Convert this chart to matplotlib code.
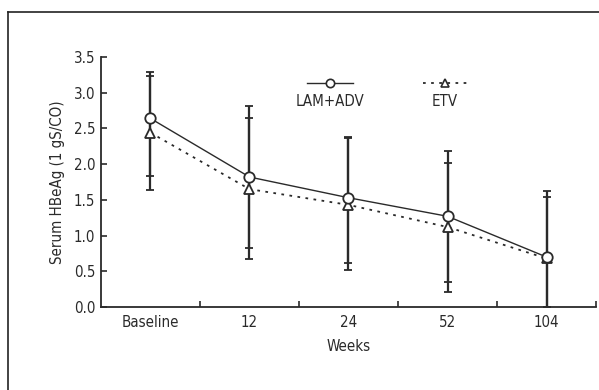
import matplotlib
matplotlib.use("Agg")
import matplotlib.pyplot as plt
import numpy as np
from matplotlib.lines import Line2D

plt.rcParams['font.family'] = ['DejaVu Sans']
plt.rcParams['font.stretch'] = 'condensed'

categories = ["Baseline", "12", "24", "52", "104"]
lam_mean = [2.64, 1.82, 1.53, 1.27, 0.70]
lam_upper = [3.23, 2.65, 2.38, 2.02, 1.54]
lam_lower = [1.83, 0.82, 0.61, 0.35, 0.0]
etv_mean = [2.44, 1.65, 1.43, 1.12, 0.68]
etv_upper = [3.29, 2.81, 2.36, 2.18, 1.62]
etv_lower = [1.64, 0.67, 0.52, 0.21, 0.0]
yticks = [0.0, 0.5, 1.0, 1.5, 2.0, 2.5, 3.0, 3.5]

ink = "#2a2a2a"
fs = 10.8

fig = plt.figure(figsize=(5.99, 3.90), dpi=100)
ax = fig.add_axes([0.1686, 0.2128, 0.8264, 0.641])

x = np.arange(len(categories)) + 0.5

def err(mean, lo, hi):
    mean = np.array(mean)
    return [mean - np.array(lo), np.array(hi) - mean]

for mean, lo, hi in [(lam_mean, lam_lower, lam_upper), (etv_mean, etv_lower, etv_upper)]:
    ax.errorbar(x, mean, yerr=err(mean, lo, hi), fmt="none", ecolor=ink,
                elinewidth=1.6, capsize=3.2, capthick=1.3, zorder=2)

ax.plot(x, lam_mean, color=ink, lw=1.0, marker="o", ms=7.5, mfc="white",
        mec=ink, mew=1.3, zorder=4)
ax.plot(x, etv_mean, color=ink, lw=1.3, ls=(0, (1.5, 3)), marker="^", ms=7.5,
        mfc="white", mec=ink, mew=1.3, zorder=3)

ax.set_xlim(0, 5)
ax.set_ylim(0, 3.5)
ax.set_xticks(np.arange(1, 6))
ax.set_xticklabels([])
ax.set_xticks(x, minor=True)
ax.set_xticklabels(categories, minor=True, fontsize=fs, color=ink)
ax.tick_params(axis="x", which="minor", length=0, pad=6)
ax.tick_params(axis="x", which="major", direction="in", length=4, width=1.2, color=ink)
ax.set_yticks(yticks)
ax.set_yticklabels([f"{v:.1f}" for v in yticks], fontsize=fs, color=ink)
ax.tick_params(axis="y", direction="in", length=4, width=1.2, color=ink, pad=4)

for s in ["top", "right"]:
    ax.spines[s].set_visible(False)
for s in ["left", "bottom"]:
    ax.spines[s].set_color(ink)
    ax.spines[s].set_linewidth(1.3)

ax.set_xlabel("Weeks", fontsize=fs, color=ink, labelpad=6)
ax.set_ylabel("Serum HBeAg (1 gS/CO)", fontsize=fs, color=ink, labelpad=6)

# legend drawn manually: handle above label
ax.add_line(Line2D([0.416, 0.509], [0.896, 0.896], transform=ax.transAxes,
                   color=ink, lw=1.0, clip_on=False))
ax.add_line(Line2D([0.4625], [0.896], transform=ax.transAxes, marker="o", ms=6,
                   mfc="white", mec=ink, mew=1.2, clip_on=False))
ax.text(0.4625, 0.822, "LAM+ADV", transform=ax.transAxes, ha="center", va="center",
        fontsize=fs, color=ink)
ax.add_line(Line2D([0.650, 0.739], [0.896, 0.896], transform=ax.transAxes,
                   color=ink, lw=1.3, ls=(0, (1.5, 3)), clip_on=False))
ax.add_line(Line2D([0.6945], [0.896], transform=ax.transAxes, marker="^", ms=6,
                   mfc="white", mec=ink, mew=1.2, clip_on=False))
ax.text(0.6945, 0.822, "ETV", transform=ax.transAxes, ha="center", va="center",
        fontsize=fs, color=ink)

# outer frame (top and left edges)
fig.add_artist(Line2D([8 / 599, 1], [1 - 12 / 390, 1 - 12 / 390], transform=fig.transFigure,
                      color="#222222", lw=1.2))
fig.add_artist(Line2D([8 / 599, 8 / 599], [0, 1 - 12 / 390], transform=fig.transFigure,
                      color="#222222", lw=1.2))

fig.savefig("out.png", dpi=100)
